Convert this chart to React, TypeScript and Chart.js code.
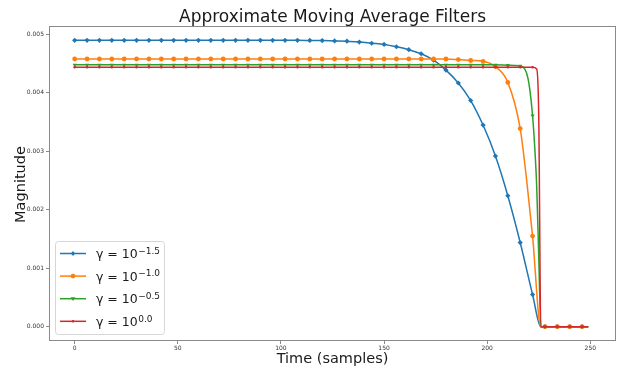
import React, { useEffect, useRef } from 'react';
import { Chart, registerables } from 'chart.js';

Chart.register(...registerables);

const FONT = '"DejaVu Sans", sans-serif';

// sample times at which markers are drawn
const times = [0, 6, 12, 18, 24, 30, 36, 42, 48, 54, 60, 66, 72, 78, 84, 90, 96, 102, 108, 114, 120,
  126, 132, 138, 144, 150, 156, 162, 168, 174, 180, 186, 192, 198, 204, 210, 216, 222, 228, 234, 240, 246];

const xTicks = [0, 50, 100, 150, 200, 250];
const yTicks = [0, 0.001, 0.002, 0.003, 0.004, 0.005];

const exponents = ['\u22121.5', '\u22121.0', '\u22120.5', '0.0'];
const colors = ['#1f77b4', '#ff7f0e', '#2ca02c', '#d62728'];

// γ = 10^-1.5
const blueY = [0.0049, 0.0049, 0.0049, 0.0049, 0.0049, 0.0049, 0.0049, 0.0049, 0.0049, 0.0049, 0.0049,
  0.0049, 0.0049, 0.0049, 0.0049, 0.0049, 0.0049, 0.0049, 0.0049, 0.004898, 0.004895, 0.00489, 0.004885,
  0.00487, 0.00485, 0.00483, 0.00479, 0.00474, 0.00467, 0.00456, 0.00439, 0.00417, 0.00387, 0.00345,
  0.00292, 0.00224, 0.00144, 0.00055, 0, 0, 0, 0];
const blueExtraX = [226, 249];
const blueExtraY = [0, 0];

// γ = 10^-1.0
const orangeY = [0.00458, 0.00458, 0.00458, 0.00458, 0.00458, 0.00458, 0.00458, 0.00458, 0.00458, 0.00458,
  0.00458, 0.00458, 0.00458, 0.00458, 0.00458, 0.00458, 0.00458, 0.00458, 0.00458, 0.00458, 0.00458,
  0.00458, 0.00458, 0.00458, 0.00458, 0.00458, 0.00458, 0.00458, 0.00458, 0.00458, 0.00458, 0.00457,
  0.004555, 0.00454, 0.00445, 0.00418, 0.00339, 0.00155, 0, 0, 0, 0];
const orangeExtraX = [219, 226, 249];
const orangeExtraY = [0.00255, 0, 0];

// γ = 10^-0.5
const greenY = [0.00448, 0.00448, 0.00448, 0.00448, 0.00448, 0.00448, 0.00448, 0.00448, 0.00448, 0.00448,
  0.00448, 0.00448, 0.00448, 0.00448, 0.00448, 0.00448, 0.00448, 0.00448, 0.00448, 0.00448, 0.00448,
  0.00448, 0.00448, 0.00448, 0.00448, 0.00448, 0.00448, 0.00448, 0.00448, 0.00448, 0.00448, 0.00448,
  0.00448, 0.00448, 0.00448, 0.004475, 0.00446, 0.00361, 0, 0, 0, 0];
const greenExtraX = [219, 220.5, 223, 224, 225, 226, 249];
const greenExtraY = [0.00435, 0.0041, 0.0031, 0.0024, 0.0012, 0, 0];

// γ = 10^0.0
const redY = [0.00444, 0.00444, 0.00444, 0.00444, 0.00444, 0.00444, 0.00444, 0.00444, 0.00444, 0.00444,
  0.00444, 0.00444, 0.00444, 0.00444, 0.00444, 0.00444, 0.00444, 0.00444, 0.00444, 0.00444, 0.00444,
  0.00444, 0.00444, 0.00444, 0.00444, 0.00444, 0.00444, 0.00444, 0.00444, 0.00444, 0.00444, 0.00444,
  0.00444, 0.00444, 0.00444, 0.00444, 0.00444, 0.00444, 0, 0, 0, 0];
const redExtraX = [224, 225, 226, 249];
const redExtraY = [0.00441, 0.0036, 0, 0];

const markerStyles = ['rectRot', 'circle', 'triangle', 'circle'];
const markerRadius = [2.6, 2.4, 2.4, 1.3];
const markerRotation = [0, 0, 180, 0];

function buildPoints(ys: number[], ex: number[], ey: number[]) {
  const pts = times.map((t, i) => ({ x: t, y: ys[i], m: true }));
  ex.forEach((x, i) => pts.push({ x, y: ey[i], m: false }));
  pts.sort((a, b) => a.x - b.x);
  return pts;
}

function drawMarker(ctx: CanvasRenderingContext2D, i: number, x: number, y: number) {
  const r = markerRadius[i];
  ctx.fillStyle = colors[i];
  ctx.beginPath();
  if (markerStyles[i] === 'circle') {
    ctx.arc(x, y, r, 0, Math.PI * 2);
  } else if (markerStyles[i] === 'rectRot') {
    ctx.moveTo(x, y - r); ctx.lineTo(x + r * 0.8, y); ctx.lineTo(x, y + r); ctx.lineTo(x - r * 0.8, y);
    ctx.closePath();
  } else {
    ctx.moveTo(x - r, y - r * 0.6); ctx.lineTo(x + r, y - r * 0.6); ctx.lineTo(x, y + r); ctx.closePath();
  }
  ctx.fill();
}

const decorPlugin = {
  id: 'decor',
  afterDraw(chart: any) {
    const { ctx, chartArea } = chart;
    const { left, right, top, bottom } = chartArea;
    ctx.save();
    // frame
    ctx.strokeStyle = '#8a8a8a';
    ctx.lineWidth = 1;
    ctx.strokeRect(Math.round(left) + 0.5, Math.round(top) + 0.5, Math.round(right - left) - 1, Math.round(bottom - top) - 1);
    // title
    ctx.fillStyle = '#1a1a1a';
    ctx.textAlign = 'center';
    ctx.textBaseline = 'alphabetic';
    ctx.font = `17px ${FONT}`;
    ctx.fillText('Approximate Moving Average Filters', (left + right) / 2, top - 4);
    // x label
    ctx.font = `14.5px ${FONT}`;
    ctx.fillText('Time (samples)', (left + right) / 2, bottom + 22);
    // y label
    ctx.save();
    ctx.translate(left - 24, (top + bottom) / 2 + 1);
    ctx.rotate(-Math.PI / 2);
    ctx.fillText('Magnitude', 0, 0);
    ctx.restore();
    // legend
    const bx = left + 6, by = bottom - 100, bw = 109, bh = 93;
    ctx.fillStyle = 'rgba(255,255,255,0.85)';
    ctx.strokeStyle = '#d6d6d6';
    ctx.beginPath();
    if ((ctx as any).roundRect) (ctx as any).roundRect(bx + 0.5, by + 0.5, bw, bh, 3);
    else ctx.rect(bx + 0.5, by + 0.5, bw, bh);
    ctx.fill();
    ctx.stroke();
    for (let i = 0; i < 4; i++) {
      const ly = by + 12.5 + i * 22.6;
      ctx.strokeStyle = colors[i];
      ctx.lineWidth = 1.5;
      ctx.beginPath();
      ctx.moveTo(bx + 5, ly);
      ctx.lineTo(bx + 31, ly);
      ctx.stroke();
      drawMarker(ctx, i, bx + 18, ly);
      ctx.fillStyle = '#1a1a1a';
      ctx.textAlign = 'left';
      ctx.font = `12.5px ${FONT}`;
      const main = '\u03b3 = 10';
      const tx = bx + 41;
      ctx.fillText(main, tx, ly + 4.5);
      const w = ctx.measureText(main).width;
      ctx.font = `9px ${FONT}`;
      ctx.fillText(exponents[i], tx + w + 0.5, ly + 0.3);
    }
    ctx.restore();
  },
};

export default function App() {
  const canvasRef = useRef<HTMLCanvasElement | null>(null);

  useEffect(() => {
    const canvas = canvasRef.current;
    if (!canvas) return;
    const series = [
      buildPoints(blueY, blueExtraX, blueExtraY),
      buildPoints(orangeY, orangeExtraX, orangeExtraY),
      buildPoints(greenY, greenExtraX, greenExtraY),
      buildPoints(redY, redExtraX, redExtraY),
    ];
    const datasets = series.map((pts, i) => ({
      label: '\u03b3 = 10^' + exponents[i],
      data: pts,
      borderColor: colors[i],
      backgroundColor: colors[i],
      borderWidth: 1.5,
      cubicInterpolationMode: 'monotone' as const,
      pointStyle: markerStyles[i],
      pointRotation: markerRotation[i],
      pointRadius: (c: any) => (c.raw && c.raw.m ? markerRadius[i] : 0),
      pointBorderWidth: 0,
      pointHoverRadius: 0,
      order: 3 - i,
    }));

    const chart = new Chart(canvas, {
      type: 'line',
      data: { datasets },
      options: {
        animation: false,
        responsive: false,
        maintainAspectRatio: false,
        layout: { padding: { top: 26, right: 3, left: 0, bottom: 0 } },
        plugins: { legend: { display: false }, tooltip: { enabled: false }, title: { display: false } },
        scales: {
          x: {
            type: 'linear',
            min: -12.45,
            max: 262.45,
            afterBuildTicks: (s: any) => { s.ticks = xTicks.map((v) => ({ value: v })); },
            afterFit: (s: any) => { s.height = 27; },
            border: { display: false },
            grid: { display: true, drawOnChartArea: false, drawTicks: true, tickLength: 3, color: '#8a8a8a' },
            ticks: { font: { family: FONT, size: 6 }, color: '#333', padding: 1, maxRotation: 0,
              callback: (v: any) => String(v) },
          },
          y: {
            type: 'linear',
            min: -0.000245,
            max: 0.005145,
            afterBuildTicks: (s: any) => { s.ticks = yTicks.map((v) => ({ value: v })); },
            afterFit: (s: any) => { s.width = 49; },
            border: { display: false },
            grid: { display: true, drawOnChartArea: false, drawTicks: true, tickLength: 3, color: '#8a8a8a' },
            ticks: { font: { family: FONT, size: 6 }, color: '#333', padding: 2,
              callback: (v: any) => Number(v).toFixed(3) },
          },
        },
      },
      plugins: [decorPlugin],
    } as any);
    return () => chart.destroy();
  }, []);

  return (
    <div style={{ position: 'absolute', left: 0, top: 0, width: 619, height: 368, background: '#fff' }}>
      <canvas ref={canvasRef} width={619} height={368} />
    </div>
  );
}
